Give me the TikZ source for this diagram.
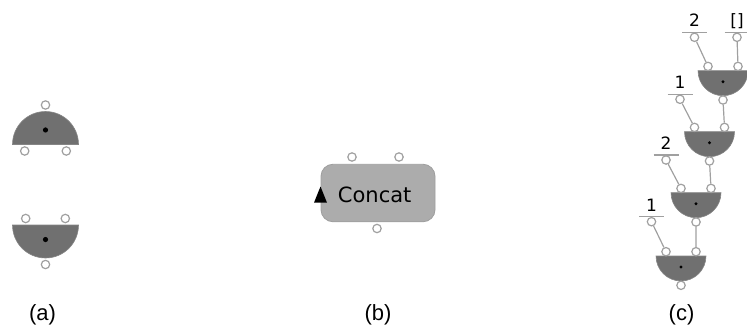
\documentclass[tikz,border=0pt]{standalone}
\usepackage{fontspec}
\setmainfont{Liberation Sans}
\newfontfamily\uifont{DejaVu Sans}
\definecolor{gatefill}{RGB}{112,112,112}
\definecolor{portline}{RGB}{160,160,160}
\definecolor{boxfill}{RGB}{172,172,172}
\definecolor{boxline}{RGB}{158,158,158}
\tikzset{
  port/.style={circle, draw=portline, fill=white, line width=1.2pt,
               minimum size=8.4pt, inner sep=0pt},
  wire/.style={draw=portline, line width=1.2pt},
  gatebody/.style={fill=gatefill, draw=gatefill!85!white, line width=0.6pt},
  hub/.style={fill=black},
  caption/.style={font=\fontsize{22}{24}\selectfont, inner sep=0pt},
  const/.style={font=\uifont\fontsize{17}{19}\selectfont, inner sep=0pt, anchor=base},
  opbox/.style={draw=boxline, fill=boxfill, line width=0.8pt, rounded corners=12pt,
                minimum width=114pt, minimum height=57.5pt, inner sep=0pt},
}
% bowl gate: #1 name, #2 centre x, #3 y of flat edge, #4 radius, #5 port gap, #6 hub radius
\newcommand\bowlgate[6]{%
  \filldraw[gatebody] (#2-#4,#3) arc[start angle=180, end angle=360, radius=#4pt] -- cycle;
  \fill[hub] (#2,#3+0.44*#4) circle[radius=#6pt];
  \node[port] (#1l) at (#2-0.6*#4,#3-#5) {};
  \node[port] (#1r) at (#2+0.6*#4,#3-#5) {};
  \node[port] (#1o) at (#2,#3+#4+#5) {};
}
% dome gate: #1 name, #2 centre x, #3 y of flat edge, #4 radius, #5 port gap, #6 hub radius
\newcommand\domegate[6]{%
  \filldraw[gatebody] (#2-#4,#3) arc[start angle=180, end angle=0, radius=#4pt] -- cycle;
  \fill[hub] (#2,#3-0.44*#4) circle[radius=#6pt];
  \node[port] (#1l) at (#2-0.63*#4,#3+#5) {};
  \node[port] (#1r) at (#2+0.63*#4,#3+#5) {};
  \node[port] (#1o) at (#2,#3-#4-#5) {};
}
% constant: #1 name, #2 centre x, #3 y of bar, #4 text
\newcommand\constant[4]{%
  \draw[wire] (#2-12.5,#3) -- (#2+12.5,#3);
  \node[const] (#1t) at (#2,#3-5.5) {#4};
  \node[port] (#1) at (#2,#3+5) {};
}
\begin{document}
\begin{tikzpicture}[x=1pt,y=-1pt]
\useasboundingbox (0,0) rectangle (747,329);

% (a) the two gate forms
\domegate{ga}{45.5}{144.5}{33}{6.5}{2.6}
\bowlgate{gb}{45.5}{225}{33}{6.5}{2.6}

% (b) the Concat operation
\node[opbox] (concat) at (378,193) {};
\node[port] (ci1) at (352,157) {};
\node[port] (ci2) at (399,157) {};
\node[port] (co) at (377,228.5) {};
\fill (314,202.7) -- (327,202.7) -- (320.5,186.5) -- cycle;
\node[font=\uifont\fontsize{21}{23}\selectfont, inner sep=0pt, anchor=base]
  (concattext) at (374.7,202) {Concat};

% (c) a chain of concatenations
\bowlgate{g0}{723}{70.7}{25}{4.3}{1.6}
\bowlgate{g1}{709.5}{131.7}{25}{4.3}{1.6}
\bowlgate{g2}{696}{192.7}{25}{4.3}{1.6}
\bowlgate{g3}{681}{256}{25}{4.3}{1.6}

\constant{k0}{694.5}{32.3}{2}
\constant{kn}{737}{32.3}{[]}
\constant{k1}{680}{94.3}{1}
\constant{k2}{666}{155}{2}
\constant{k3}{651.5}{216.7}{1}

\draw[wire] (k0) -- (g0l);
\draw[wire] (kn) -- (g0r);
\draw[wire] (k1) -- (g1l);
\draw[wire] (g0o) -- (g1r);
\draw[wire] (k2) -- (g2l);
\draw[wire] (g1o) -- (g2r);
\draw[wire] (k3) -- (g3l);
\draw[wire] (g2o) -- (g3r);

% captions
\node[caption] (capa) at (42.5,315) {(a)};
\node[caption] (capb) at (378,315) {(b)};
\node[caption] (capc) at (681.5,315) {(c)};
\end{tikzpicture}
\end{document}
